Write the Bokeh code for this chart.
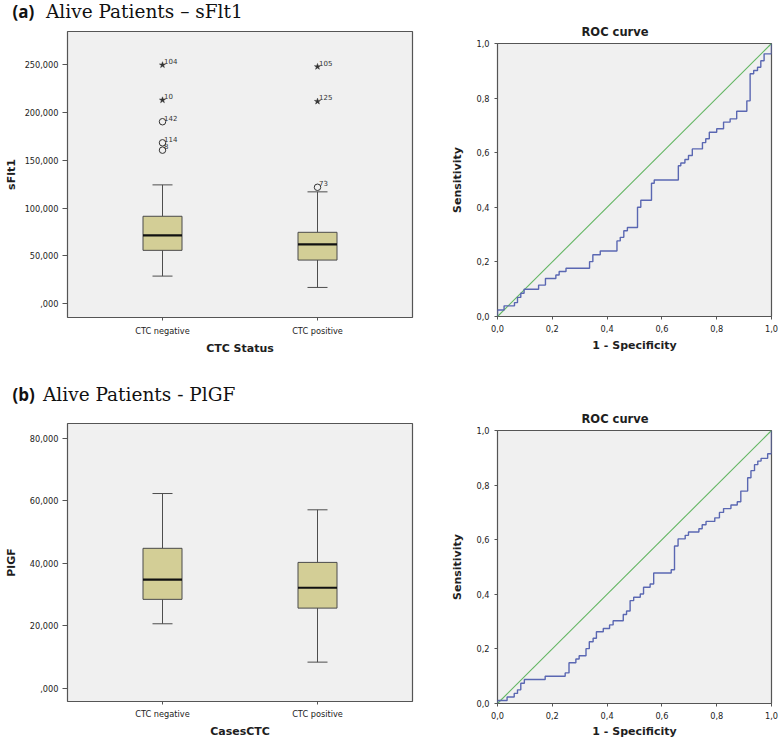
from bokeh.plotting import figure
from bokeh.layouts import row, column
from bokeh.models import Range1d, FixedTicker, Div
from bokeh.core.properties import value
from bokeh.embed import file_html
from bokeh.resources import INLINE

# ---------------- data ----------------
categories = ["CTC negative", "CTC positive"]
category_pos = [1, 2]

sflt1_whisker_low = [28700, 16800]
sflt1_q1 = [55700, 45500]
sflt1_median = [71400, 62000]
sflt1_q3 = [91400, 74600]
sflt1_whisker_high = [124300, 117000]

sflt1_outlier_cat = [1, 1, 1, 1, 1, 2, 2, 2]
sflt1_outlier_value = [160700, 168400, 190500, 213200, 250000, 121800, 211800, 248200]
sflt1_outlier_id = ["8", "114", "142", "10", "104", "73", "125", "105"]
sflt1_outlier_extreme = [False, False, False, True, True, False, True, True]

plgf_whisker_low = [20700, 8450]
plgf_q1 = [28500, 25700]
plgf_median = [34800, 32200]
plgf_q3 = [44800, 40300]
plgf_whisker_high = [62300, 57100]

sflt1_ticks = [0, 50000, 100000, 150000, 200000, 250000]
sflt1_tick_labels = [",000", "50,000", "100,000", "150,000", "200,000", "250,000"]
plgf_ticks = [0, 20000, 40000, 60000, 80000]
plgf_tick_labels = [",000", "20,000", "40,000", "60,000", "80,000"]
roc_ticks = [0.0, 0.2, 0.4, 0.6, 0.8, 1.0]
roc_tick_labels = ["0,0", "0,2", "0,4", "0,6", "0,8", "1,0"]

roc_a_fpr = [0.0, 0.024, 0.062, 0.073, 0.085, 0.097, 0.150, 0.175, 0.213, 0.225, 0.250,
             0.336, 0.348, 0.375, 0.436, 0.448, 0.461, 0.474, 0.511, 0.523, 0.562, 0.572,
             0.660, 0.669, 0.684, 0.697, 0.711, 0.748, 0.760, 0.773, 0.800, 0.825, 0.849,
             0.873, 0.910, 0.922, 0.935, 0.949, 0.961, 0.973, 1.0]
roc_a_tpr = [0.024, 0.039, 0.051, 0.070, 0.085, 0.100, 0.115, 0.139, 0.152, 0.165, 0.177,
             0.201, 0.226, 0.240, 0.277, 0.290, 0.314, 0.326, 0.400, 0.426, 0.488, 0.500,
             0.552, 0.562, 0.575, 0.590, 0.614, 0.637, 0.651, 0.675, 0.688, 0.712, 0.724,
             0.752, 0.790, 0.889, 0.901, 0.913, 0.937, 0.962, 1.0]

roc_b_fpr = [0.0, 0.035, 0.061, 0.073, 0.085, 0.098, 0.174, 0.247, 0.261, 0.286, 0.298,
             0.323, 0.335, 0.349, 0.361, 0.386, 0.409, 0.422, 0.459, 0.471, 0.484, 0.497,
             0.521, 0.533, 0.557, 0.570, 0.634, 0.646, 0.659, 0.685, 0.697, 0.735, 0.747,
             0.761, 0.793, 0.810, 0.825, 0.852, 0.875, 0.888, 0.913, 0.925, 0.938, 0.950,
             0.962, 0.986, 1.0]
roc_b_tpr = [0.011, 0.024, 0.037, 0.050, 0.074, 0.088, 0.100, 0.112, 0.149, 0.163, 0.175,
             0.201, 0.226, 0.239, 0.263, 0.275, 0.288, 0.303, 0.326, 0.339, 0.377, 0.389,
             0.401, 0.426, 0.438, 0.478, 0.490, 0.577, 0.603, 0.616, 0.628, 0.640, 0.655,
             0.667, 0.680, 0.700, 0.714, 0.727, 0.739, 0.778, 0.827, 0.853, 0.875, 0.888,
             0.898, 0.915, 1.0]

# ---------------- styles ----------------
FRAME_BG = "#f0f0f0"
FRAME_LINE = "#555555"
BOX_FILL = "#d3ce96"
TICK_FONT = "DejaVu Sans"
TEXT_DARK = "#1e1e1e"
ROC_BLUE = "#5a67b2"
ROC_GREEN = "#63b663"

ROW1_H = 368
ROW2_H = 372
BOX_W = 440
ROC_W = 338


def style(p, tick_out_x, tick_out_y, std_x, std_y, lab_std_x, lab_std_y):
    p.xgrid.visible = False
    p.ygrid.visible = False
    p.outline_line_color = FRAME_LINE
    p.outline_line_width = 1.2
    p.background_fill_color = FRAME_BG
    p.border_fill_color = "white"
    for ax, tout, std, lstd in ((p.xaxis[0], tick_out_x, std_x, lab_std_x),
                                (p.yaxis[0], tick_out_y, std_y, lab_std_y)):
        ax.axis_line_color = None
        ax.major_tick_line_color = FRAME_LINE
        ax.major_tick_in = 0
        ax.major_tick_out = tout
        ax.minor_tick_line_color = None
        ax.major_label_standoff = std
        ax.major_label_text_font = TICK_FONT
        ax.major_label_text_font_size = "8.2px"
        ax.major_label_text_color = "#222222"
        ax.axis_label_standoff = lstd
        ax.axis_label_text_font = TICK_FONT
        ax.axis_label_text_font_style = "bold"
        ax.axis_label_text_font_size = "11px"
        ax.axis_label_text_color = TEXT_DARK


def title_div(tag, title, height, top, title_left):
    html = (
        '<div style="position:relative;width:430px;height:%dpx;">'
        '<span style="position:absolute;left:12.5px;top:%dpx;line-height:20px;white-space:nowrap;'
        'font-family:\'Open Sans\';font-weight:bold;font-size:17px;color:#111;">%s</span>'
        '<span style="position:absolute;left:%spx;top:%dpx;line-height:20px;white-space:nowrap;'
        'font-family:\'DejaVu Serif\';font-size:18.5px;color:#111;">%s</span>'
        '</div>'
    ) % (height, top, tag, title_left, top, title)
    return Div(text=html, width=BOX_W, height=height, margin=0)


def make_box(ylab, xlab, ticks, tick_labels, yr, low, q1, med, q3, high,
             height, b_top, b_bottom, bottom_std, ylab_std,
             out_cat=None, out_val=None, out_id=None, out_ext=None):
    BL, BR = 67, 28
    fw = BOX_W - BL - BR
    fh = height - b_top - b_bottom
    xr = (1 - 95 / 155, 2 + 95 / 155)
    p = figure(width=BOX_W, height=height, x_range=Range1d(*xr), y_range=Range1d(*yr),
               output_backend="svg", toolbar_location=None,
               min_border_left=BL, min_border_right=BR,
               min_border_top=b_top, min_border_bottom=b_bottom)
    dx = (xr[1] - xr[0]) / fw
    dy = (yr[1] - yr[0]) / fh
    style(p, 3, 5, bottom_std[0], 4, bottom_std[1], ylab_std)
    p.xaxis.ticker = FixedTicker(ticks=category_pos)
    p.xaxis.major_label_overrides = {c: n for c, n in zip(category_pos, categories)}
    p.yaxis.ticker = FixedTicker(ticks=ticks)
    p.yaxis.major_label_overrides = {t: s for t, s in zip(ticks, tick_labels)}
    p.xaxis.axis_label = xlab
    p.yaxis.axis_label = ylab

    half_cap = 10 * dx
    half_box = 19.5 * dx
    xs = category_pos
    p.segment(x0=xs, y0=low, x1=xs, y1=q1, line_color="#4d4d4d", line_width=1)
    p.segment(x0=xs, y0=q3, x1=xs, y1=high, line_color="#4d4d4d", line_width=1)
    p.segment(x0=[x - half_cap for x in xs], y0=low, x1=[x + half_cap for x in xs], y1=low,
              line_color="#4d4d4d", line_width=1)
    p.segment(x0=[x - half_cap for x in xs], y0=high, x1=[x + half_cap for x in xs], y1=high,
              line_color="#4d4d4d", line_width=1)
    p.vbar(x=xs, width=2 * half_box, bottom=q1, top=q3, fill_color=BOX_FILL,
           line_color="#4a4a4a", line_width=1)
    p.segment(x0=[x - half_box for x in xs], y0=med, x1=[x + half_box for x in xs], y1=med,
              line_color="#111111", line_width=2.2)

    if out_val is not None:
        cx = [c for c, e in zip(out_cat, out_ext) if not e]
        cy = [v for v, e in zip(out_val, out_ext) if not e]
        sx = [c for c, e in zip(out_cat, out_ext) if e]
        sy = [v for v, e in zip(out_val, out_ext) if e]
        p.scatter(x=cx, y=cy, marker="circle", size=6.5, fill_color=None,
                  line_color="#333333", line_width=1)
        p.scatter(x=sx, y=sy, marker="star", size=6.5, fill_color="#333333",
                  line_color="#333333", line_width=0.5)
        p.text(x=[c + 1.5 * dx for c in out_cat], y=[v + 4 * dy for v in out_val], text=out_id,
               text_font=value(TICK_FONT), text_font_size="7px", text_color="#333333",
               text_baseline="alphabetic", text_align="left")
    return p


def step_path(fpr, tpr):
    xs, ys = [0.0], [0.0]
    for f, t in zip(fpr, tpr):
        xs.append(f)
        ys.append(ys[-1])
        xs.append(f)
        ys.append(t)
    return xs, ys


def make_roc(fpr, tpr, height, b_top, b_bottom, title_standoff, bottom_std):
    BL, BR = 57, 7
    p = figure(width=ROC_W, height=height, x_range=Range1d(0, 1), y_range=Range1d(0, 1),
               output_backend="svg", toolbar_location=None,
               min_border_left=BL, min_border_right=BR,
               min_border_top=b_top, min_border_bottom=b_bottom)
    style(p, 3, 3, bottom_std[0], 5, bottom_std[1], 9)
    for ax in (p.xaxis, p.yaxis):
        ax.ticker = FixedTicker(ticks=roc_ticks)
        ax.major_label_overrides = {t: s for t, s in zip(roc_ticks, roc_tick_labels)}
    p.xaxis.axis_label = "1 - Specificity"
    p.yaxis.axis_label = "Sensitivity"
    p.title.text = "ROC curve"
    p.title.align = "left"
    p.title.offset = 84
    p.title.vertical_align = "bottom"
    p.title.standoff = title_standoff
    p.title.text_font = TICK_FONT
    p.title.text_font_style = "bold"
    p.title.text_font_size = "11.5px"
    p.title.text_color = TEXT_DARK
    p.line(x=[roc_ticks[0], roc_ticks[-1]], y=[roc_ticks[0], roc_ticks[-1]],
           line_color=ROC_GREEN, line_width=1.1)
    xs, ys = step_path(fpr, tpr)
    p.line(x=xs, y=ys, line_color=ROC_BLUE, line_width=1.4)
    return p


DIV_A_H = 24
DIV_B_H = 45

div_a = title_div("(a)", "Alive Patients \u2013 sFlt1", DIV_A_H, 2, 46)
pa = make_box("sFlt1", "CTC Status", sflt1_ticks, sflt1_tick_labels, (-14700, 285080),
              sflt1_whisker_low, sflt1_q1, sflt1_median, sflt1_q3, sflt1_whisker_high,
              ROW1_H - DIV_A_H, 31 - DIV_A_H, ROW1_H - 317, (5, 3), 4,
              sflt1_outlier_cat, sflt1_outlier_value, sflt1_outlier_id, sflt1_outlier_extreme)
ra = make_roc(roc_a_fpr, roc_a_tpr, ROW1_H, 43, ROW1_H - 316, 9.5, (5, 4))

div_b = title_div("(b)", "Alive Patients - PlGF", DIV_B_H, 17, 43)
pb = make_box("PlGF", "CasesCTC", plgf_ticks, plgf_tick_labels, (-4120, 84660),
              plgf_whisker_low, plgf_q1, plgf_median, plgf_q3, plgf_whisker_high,
              ROW2_H - DIV_B_H, 423 - ROW1_H - DIV_B_H, ROW1_H + ROW2_H - 703, (4, 3), 9)
rb = make_roc(roc_b_fpr, roc_b_tpr, ROW2_H, 430 - ROW1_H, ROW1_H + ROW2_H - 703, 8.5, (5, 3))

layout = column(row(column(div_a, pa), ra), row(column(div_b, pb), rb))

open("out.html", "w").write(file_html(layout, INLINE))
